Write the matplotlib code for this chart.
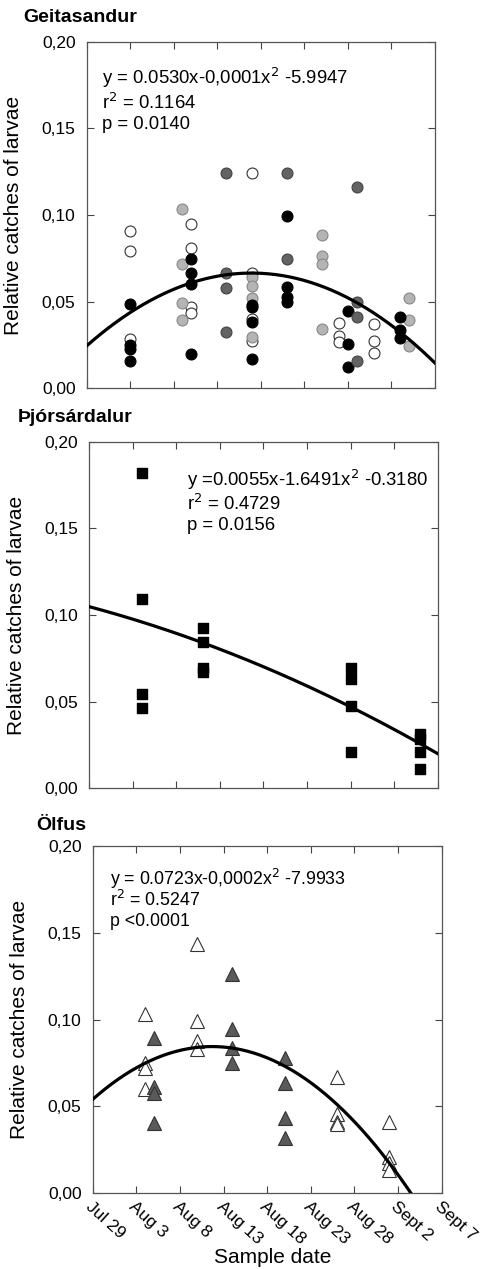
import numpy as np
import matplotlib
matplotlib.use("Agg")
import matplotlib.pyplot as plt
from matplotlib.ticker import FuncFormatter

plt.rcParams['font.family'] = ['Liberation Sans', 'DejaVu Sans']

# ---------------- data ----------------
tick_days = [210, 215, 220, 225, 230, 235, 240, 245, 250]
tick_labels = ["Jul 29", "Aug 3", "Aug 8", "Aug 13", "Aug 18", "Aug 23", "Aug 28", "Sept 2", "Sept 7"]
y_ticks = [0.00, 0.05, 0.10, 0.15, 0.20]

# Geitasandur (day of year, relative catch)
geit_open_x = [215, 215, 215, 222, 222, 222, 222, 229, 229, 229, 229, 239, 239, 239, 243, 243, 243]
geit_open_y = [0.0908, 0.0794, 0.0285, 0.0947, 0.0812, 0.0471, 0.0436, 0.124, 0.0663, 0.040, 0.0273,
               0.0375, 0.0304, 0.0269, 0.0371, 0.0273, 0.0205]
geit_light_x = [221, 221, 221, 221, 229, 229, 229, 229, 237, 237, 237, 237, 247, 247, 247]
geit_light_y = [0.1035, 0.0715, 0.0494, 0.0394, 0.064, 0.059, 0.0519, 0.0298,
                0.0885, 0.0763, 0.0715, 0.0342, 0.0519, 0.0394, 0.0246]
geit_black_x = [215, 215, 215, 215, 222, 222, 222, 222, 229, 229, 229, 229, 233, 233, 233, 233,
                240, 240, 240, 246, 246, 246]
geit_black_y = [0.0485, 0.025, 0.0225, 0.016, 0.0746, 0.0663, 0.0602, 0.0196,
                0.0481, 0.0467, 0.0381, 0.0167, 0.0994, 0.0586, 0.0529, 0.050,
                0.0448, 0.0256, 0.0125, 0.0413, 0.0336, 0.0288]
geit_dark_x = [226, 226, 226, 226, 233, 233, 241, 241, 241, 241]
geit_dark_y = [0.124, 0.0663, 0.0581, 0.0327, 0.124, 0.0744, 0.116, 0.050, 0.0413, 0.0159]
geit_fit = [228.94, 0.0665, 1.171e-4]   # vertex day, vertex value, curvature

# Þjórsárdalur
thjor_x = [216, 216, 216, 216, 223, 223, 223, 223, 240, 240, 240, 240, 248, 248, 248, 248]
thjor_y = [0.1817, 0.109, 0.0544, 0.0462, 0.0923, 0.0842, 0.0696, 0.0673,
           0.0696, 0.0629, 0.0477, 0.0212, 0.0313, 0.0283, 0.0212, 0.0112]
thjor_fit = [0.1048, -0.001347, -1.933e-5]  # value at Jul 29, slope, curvature (days since Jul 29)

# Ölfus
olf_open_x = [216, 216, 216, 216, 222, 222, 222, 222, 238, 238, 238, 238, 244, 244, 244, 244]
olf_open_y = [0.1031, 0.0752, 0.072, 0.0599, 0.1434, 0.0994, 0.0879, 0.0833,
              0.0668, 0.0457, 0.0413, 0.040, 0.0409, 0.0207, 0.0173, 0.0134]
olf_dark_x = [217, 217, 217, 217, 226, 226, 226, 226, 232, 232, 232, 232]
olf_dark_y = [0.0893, 0.061, 0.058, 0.0407, 0.1263, 0.0946, 0.0839, 0.0749,
              0.0781, 0.0637, 0.0436, 0.032]
olf_fit = [223.68, 0.0845, 1.625e-4]
olf_fit_end = 246.45

geit_stats = ["y = 0.0530x-0,0001x$^2$ -5.9947", "r$^2$ = 0.1164", "p = 0.0140"]
thjor_stats = ["y =0.0055x-1.6491x$^2$ -0.3180", "r$^2$ = 0.4729", "p = 0.0156"]
olf_stats = ["y = 0.0723x-0,0002x$^2$ -7.9933", "r$^2$ = 0.5247", "p <0.0001"]

# ---------------- figure ----------------
W, H = 483, 1269
fig = plt.figure(figsize=(W / 100, H / 100), dpi=100)

def rect(l, t, r, b):
    return [l / W, 1 - b / H, (r - l) / W, (b - t) / H]

ax1 = fig.add_axes(rect(86.7, 41.7, 435.0, 388.3))
ax2 = fig.add_axes(rect(89.3, 441.7, 437.7, 788.3))
ax3 = fig.add_axes(rect(92.7, 846.0, 441.7, 1193.3))

fmt = FuncFormatter(lambda v, p: f"{v:.2f}".replace(".", ","))

for ax in (ax1, ax2, ax3):
    ax.set_xlim(210, 250)
    ax.set_ylim(0, 0.20)
    ax.set_xticks(tick_days)
    ax.set_yticks(y_ticks)
    ax.yaxis.set_major_formatter(fmt)
    ax.tick_params(direction='in', length=5, width=0.8, color='#444444',
                   top=True, right=True, labelsize=12.5)
    ax.tick_params(axis='y', pad=8)
    for s in ax.spines.values():
        s.set_color('#555555')
        s.set_linewidth(0.9)
    ax.set_ylabel("Relative catches of larvae", fontsize=15)
    ax.yaxis.set_label_coords(-0.183, 0.5)

for ax in (ax1, ax2):
    ax.set_xticklabels([])

ax3.set_xticklabels(tick_labels, rotation=-42, ha='left', va='top',
                    rotation_mode='anchor', fontsize=12.5)
ax3.tick_params(axis='x', pad=4)
ax3.set_xlabel("Sample date", fontsize=15, va='center')
ax3.xaxis.set_label_coords(0.517, -0.185)

ms_c = 62
# Panel 1
ax1.scatter(geit_open_x, geit_open_y, s=ms_c, facecolor='white', edgecolor='#333333', linewidth=0.8, zorder=3)
ax1.scatter(geit_light_x, geit_light_y, s=ms_c, facecolor='#b4b4b4', edgecolor='#888888', linewidth=0.8, zorder=4)
ax1.scatter(geit_black_x, geit_black_y, s=ms_c, facecolor='black', edgecolor='black', linewidth=0.8, zorder=5)
ax1.scatter(geit_dark_x, geit_dark_y, s=ms_c, facecolor='#636363', edgecolor='#444444', linewidth=0.8, zorder=6)
d1 = np.linspace(210, 250, 200)
ax1.plot(d1, geit_fit[1] - geit_fit[2] * (d1 - geit_fit[0]) ** 2, color='black', lw=2.3, zorder=7)

# Panel 2
ax2.scatter(thjor_x, thjor_y, s=60, marker='s', color='black', zorder=5)
d2 = np.linspace(210, 250, 200)
t2 = d2 - 210
ax2.plot(d2, thjor_fit[0] + thjor_fit[1] * t2 + thjor_fit[2] * t2 ** 2, color='black', lw=2.3, zorder=6)

# Panel 3
ax3.plot(olf_open_x, olf_open_y, linestyle='none', marker='^', markersize=9.5,
         markerfacecolor='white', markeredgecolor='#333333', markeredgewidth=0.8, zorder=4)
ax3.plot(olf_dark_x, olf_dark_y, linestyle='none', marker='^', markersize=9.5,
         markerfacecolor='#5a5a5a', markeredgecolor='#333333', markeredgewidth=0.8, zorder=5)
d3 = np.linspace(210, olf_fit_end, 200)
ax3.plot(d3, olf_fit[1] - olf_fit[2] * (d3 - olf_fit[0]) ** 2, color='black', lw=2.3, zorder=6)

def stats_text(ax, lines, x, ys, size):
    for line, yy in zip(lines, ys):
        ax.text(x, yy, line, transform=ax.transAxes, fontsize=size, va='center', ha='left')

stats_text(ax1, geit_stats, 0.043, [1 - 0.105, 1 - 0.177, 1 - 0.24], 13.3)
stats_text(ax2, thjor_stats, 0.28, [1 - 0.1105, 1 - 0.18, 1 - 0.243], 13.3)
stats_text(ax3, olf_stats, 0.05, [1 - 0.096, 1 - 0.1555, 1 - 0.218], 12.8)

# Panel titles
fig.text(23 / W, 1 - 17 / H, "Geitasandur", fontsize=14, fontweight='bold', va='center', ha='left')
fig.text(18 / W, 1 - 418 / H, "Þjórsárdalur", fontsize=14, fontweight='bold', va='center', ha='left')
fig.text(36 / W, 1 - 825 / H, "Ölfus", fontsize=14, fontweight='bold', va='center', ha='left')

fig.savefig("out.png", dpi=100)
